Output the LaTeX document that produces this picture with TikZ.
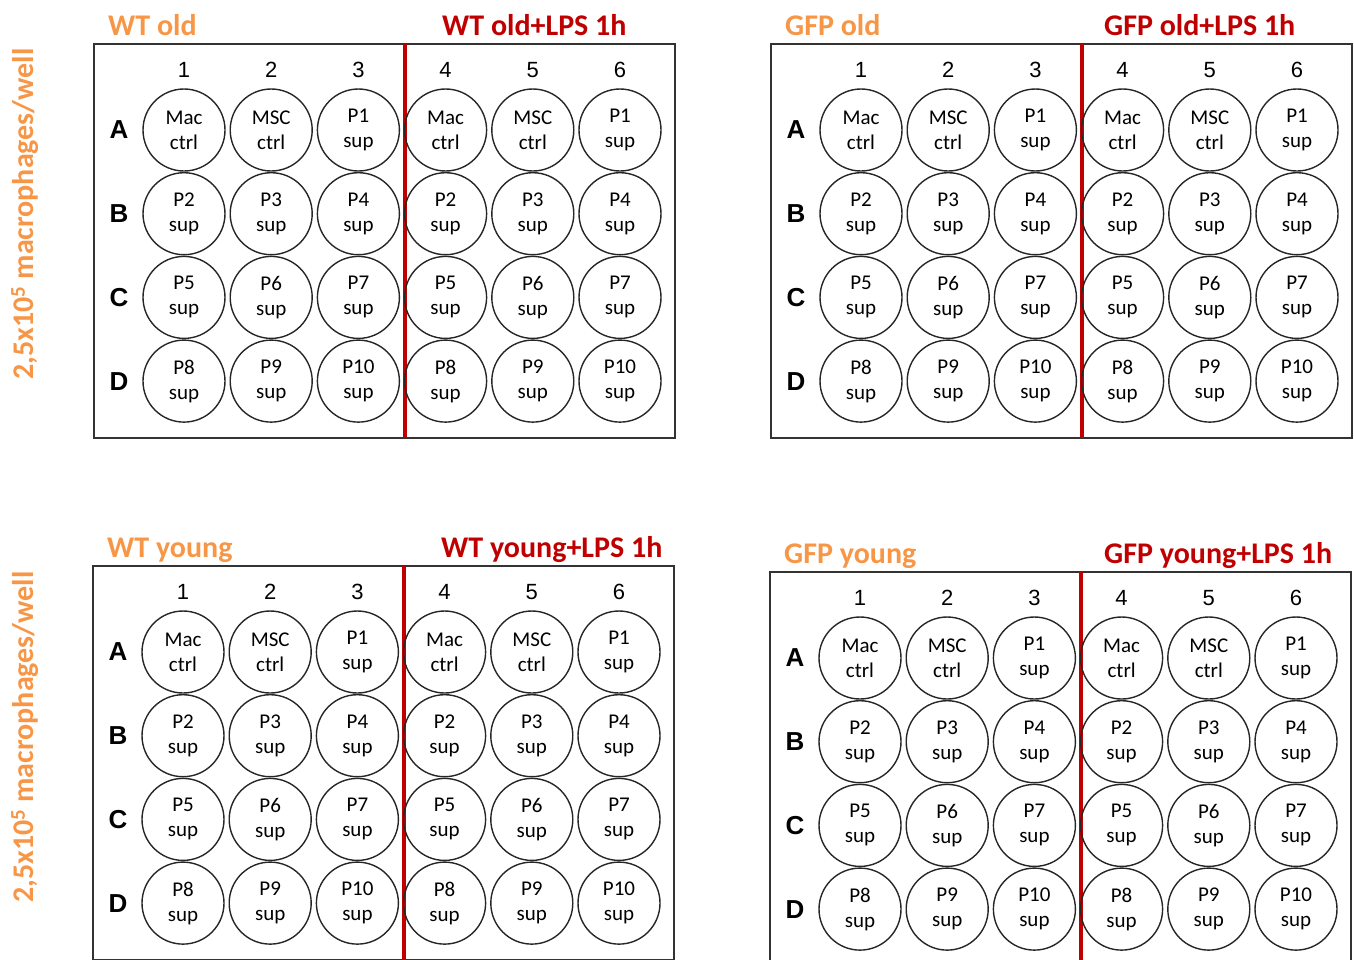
\documentclass[tikz,border=0pt]{standalone}
\usepackage{fontspec}
\setmainfont{Carlito}
\newfontfamily\arialfont{Liberation Sans}
\definecolor{labelorange}{HTML}{F79646}
\definecolor{lpsred}{HTML}{C00000}

% one plate: name, x, y, left title, right title, x of right title
\newcommand{\plate}[6]{%
  \begin{scope}[shift={(#2,#3)}]
    \draw[platebox] (0,0) rectangle (581,394);
    \draw[divider] (311,0) -- (311,394);
    \node[titleL] (#1-left) at (14,-9) {#4};
    \node[titleR] (#1-right) at (#6,-9) {#5};
    \foreach \c in {1,...,6}
      \node[colnum] (#1-\c) at ({90+87.2*(\c-1)},26) {\c};
    \foreach \r/\la/\sa/\lb/\sb/\lc/\sc [count=\j from 0] in
      {A/Mac/ctrl/MSC/ctrl/P1/sup, B/P2/sup/P3/sup/P4/sup,
       C/P5/sup/P6/sup/P7/sup, D/P8/sup/P9/sup/P10/sup} {
      \node[rowlbl] (#1-\r) at (25,{86+83.7*\j}) {\r};
      \foreach \c/\t/\s in {1/\la/\sa, 2/\lb/\sb, 3/\lc/\sc,
                            4/\la/\sa, 5/\lb/\sb, 6/\lc/\sc}
        \node[well] (#1-\r\c) at ({90+87.2*(\c-1)},{86+83.7*\j}) {\t\\\s};
    }
  \end{scope}}

\begin{document}
\begin{tikzpicture}[x=1pt,y=-1pt,
    platebox/.style={draw=black!80,line width=1.6pt},
    divider/.style={draw=lpsred,line width=4.5pt},
    well/.style={circle,draw=black!85,line width=1.4pt,minimum size=82pt,
      inner sep=0pt,align=center,font=\fontsize{21}{25}\selectfont},
    colnum/.style={inner sep=0pt,font=\arialfont\fontsize{22}{22}\selectfont},
    rowlbl/.style={inner sep=0pt,font=\arialfont\bfseries\fontsize{26}{26}\selectfont},
    titleL/.style={anchor=base west,inner sep=0pt,text=labelorange,
      font=\bfseries\fontsize{30}{30}\selectfont},
    titleR/.style={titleL,text=lpsred},
    sidelbl/.style={rotate=90,inner sep=0pt,text=labelorange,
      font=\bfseries\fontsize{30}{30}\selectfont}]
  \useasboundingbox (0,0) rectangle (1354,959);
  \clip (0,0) rectangle (1354,959);

  \node[sidelbl] (cells-top) at (25,214) {2,5x10\textsuperscript{5} macrophages/well};
  \node[sidelbl] (cells-bottom) at (25,737) {2,5x10\textsuperscript{5} macrophages/well};

  \plate{wtold}{94}{44}{WT old}{WT old+LPS 1h}{348}
  \plate{gfpold}{771}{44}{GFP old}{GFP old+LPS 1h}{333}
  \plate{wtyoung}{93}{566}{WT young}{WT young+LPS 1h}{348}
  \plate{gfpyoung}{770}{572}{GFP young}{GFP young+LPS 1h}{334}
\end{tikzpicture}
\end{document}
